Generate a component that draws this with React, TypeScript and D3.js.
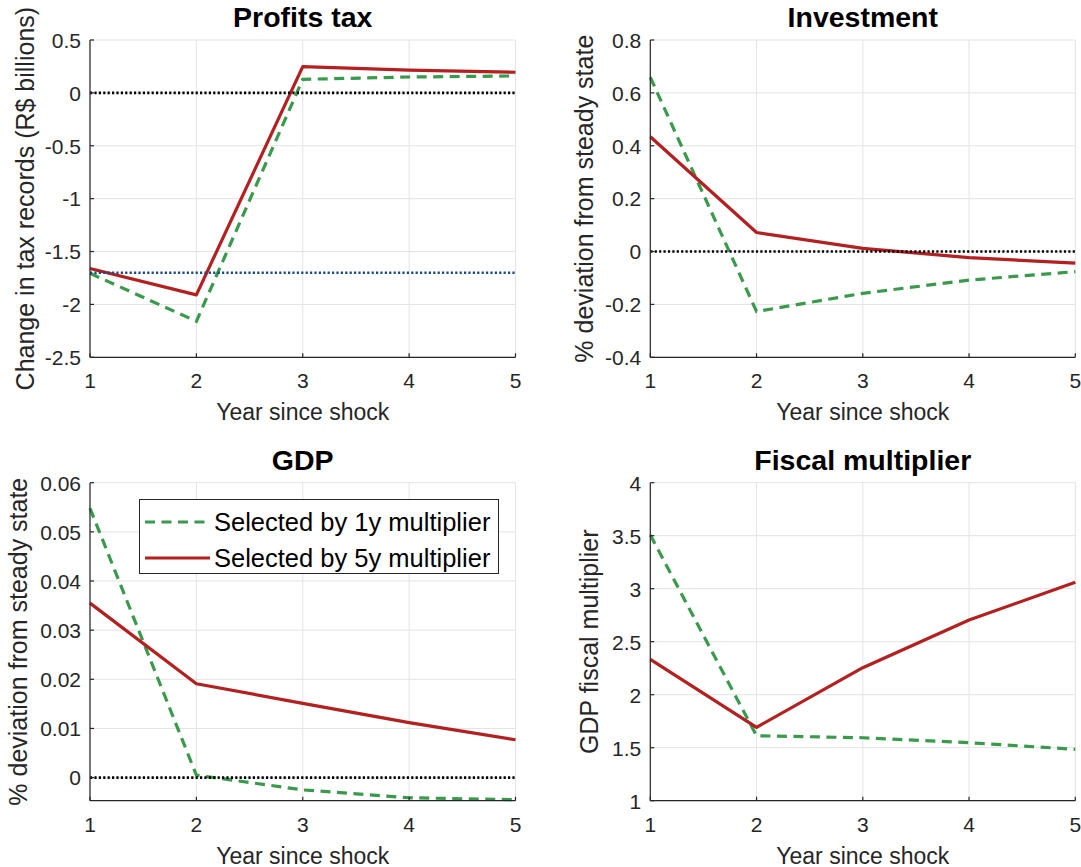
import React from "react";
import * as d3 from "d3";

const YEARS = [1, 2, 3, 4, 5];
const X_TICKS = [1, 2, 3, 4, 5];

// Profits tax
const TAX_1Y = [-1.706, -2.16, 0.128, 0.15, 0.16];
const TAX_5Y = [-1.66, -1.91, 0.248, 0.216, 0.195];
const TAX_REF = -1.7;
const TAX_TICKS = [0.5, 0, -0.5, -1, -1.5, -2, -2.5];
const TAX_TICK_LABELS = ["0.5", "0", "-0.5", "-1", "-1.5", "-2", "-2.5"];

// Investment
const INV_1Y = [0.659, -0.227, -0.158, -0.108, -0.076];
const INV_5Y = [0.434, 0.072, 0.012, -0.023, -0.044];
const INV_TICKS = [0.8, 0.6, 0.4, 0.2, 0, -0.2, -0.4];
const INV_TICK_LABELS = ["0.8", "0.6", "0.4", "0.2", "0", "-0.2", "-0.4"];

// GDP
const GDP_1Y = [0.0548, 0.0005, -0.0025, -0.0041, -0.0045];
const GDP_5Y = [0.0355, 0.0191, 0.0151, 0.0112, 0.0077];
const GDP_TICKS = [0.06, 0.05, 0.04, 0.03, 0.02, 0.01, 0];
const GDP_TICK_LABELS = ["0.06", "0.05", "0.04", "0.03", "0.02", "0.01", "0"];

// Fiscal multiplier
const MULT_1Y = [3.507, 1.613, 1.594, 1.547, 1.485];
const MULT_5Y = [2.334, 1.692, 2.255, 2.705, 3.06];
const MULT_TICKS = [4, 3.5, 3, 2.5, 2, 1.5, 1];
const MULT_TICK_LABELS = ["4", "3.5", "3", "2.5", "2", "1.5", "1"];

const SERIES_NAMES = ["Selected by 1y multiplier", "Selected by 5y multiplier"];

const GREEN = "#3a9a4c";
const RED = "#b3201f";
const BLUE = "#1b4a86";
const FONT = "'Liberation Sans', Arial, Helvetica, sans-serif";

type Panel = {
  title: string;
  ylabel: string;
  s1: number[];
  s5: number[];
  domain: [number, number];
  ticks: number[];
  tickLabels: string[];
  refs: { v: number; color: string }[];
  left: number;
  right: number;
  top: number;
  bottom: number;
  ylabOff: number;
  legend?: boolean;
};

const PANELS: Panel[] = [
  {
    title: "Profits tax",
    ylabel: "Change in tax records (R$ billions)",
    s1: TAX_1Y,
    s5: TAX_5Y,
    domain: [-2.5, 0.5],
    ticks: TAX_TICKS,
    tickLabels: TAX_TICK_LABELS,
    refs: [
      { v: 0, color: "#000" },
      { v: TAX_REF, color: BLUE },
    ],
    left: 90,
    right: 515.5,
    top: 40,
    bottom: 357.3,
    ylabOff: 56,
  },
  {
    title: "Investment",
    ylabel: "% deviation from steady state",
    s1: INV_1Y,
    s5: INV_5Y,
    domain: [-0.4, 0.8],
    ticks: INV_TICKS,
    tickLabels: INV_TICK_LABELS,
    refs: [{ v: 0, color: "#000" }],
    left: 650.3,
    right: 1075.3,
    top: 40,
    bottom: 357.3,
    ylabOff: 57,
  },
  {
    title: "GDP",
    ylabel: "% deviation from steady state",
    s1: GDP_1Y,
    s5: GDP_5Y,
    domain: [-0.0047, 0.06],
    ticks: GDP_TICKS,
    tickLabels: GDP_TICK_LABELS,
    refs: [{ v: 0, color: "#000" }],
    left: 90,
    right: 515.5,
    top: 482.7,
    bottom: 800.7,
    ylabOff: 63,
    legend: true,
  },
  {
    title: "Fiscal multiplier",
    ylabel: "GDP fiscal multiplier",
    s1: MULT_1Y,
    s5: MULT_5Y,
    domain: [1, 4],
    ticks: MULT_TICKS,
    tickLabels: MULT_TICK_LABELS,
    refs: [],
    left: 650.3,
    right: 1075.3,
    top: 482.7,
    bottom: 800.7,
    ylabOff: 52,
  },
];

function PanelView({ p }: { p: Panel }) {
  const x = d3.scaleLinear().domain([1, 5]).range([p.left, p.right]);
  const y = d3.scaleLinear().domain(p.domain).range([p.bottom, p.top]);
  const line = d3
    .line<number>()
    .x((_, i) => x(YEARS[i]))
    .y((d) => y(d));
  const cx = (p.left + p.right) / 2;
  const cy = (p.top + p.bottom) / 2;
  const axisColor = "#262626";
  return (
    <g>
      {X_TICKS.map((t) => (
        <line key={"gx" + t} x1={x(t)} x2={x(t)} y1={p.top} y2={p.bottom} stroke="#e3e3e3" strokeWidth={1} />
      ))}
      {p.ticks.map((t) => (
        <line key={"gy" + t} x1={p.left} x2={p.right} y1={y(t)} y2={y(t)} stroke="#e3e3e3" strokeWidth={1} />
      ))}
      <path d={line(p.s1) || ""} fill="none" stroke={GREEN} strokeWidth={3.2} strokeDasharray="10 6.5" />
      <path d={line(p.s5) || ""} fill="none" stroke={RED} strokeWidth={3.2} strokeLinejoin="round" />
      {p.refs.map((r, i) => (
        <line
          key={"r" + i}
          x1={p.left}
          x2={p.right}
          y1={y(r.v)}
          y2={y(r.v)}
          stroke={r.color}
          strokeWidth={2.6}
          strokeDasharray="2.2 2.2"
        />
      ))}
      <line x1={p.left} x2={p.left} y1={p.top} y2={p.bottom} stroke={axisColor} strokeWidth={1.2} />
      <line x1={p.left} x2={p.right} y1={p.bottom} y2={p.bottom} stroke={axisColor} strokeWidth={1.2} />
      {p.ticks.map((t) => (
        <line key={"ty" + t} x1={p.left} x2={p.left + 4} y1={y(t)} y2={y(t)} stroke={axisColor} strokeWidth={1.2} />
      ))}
      {X_TICKS.map((t) => (
        <line key={"tx" + t} x1={x(t)} x2={x(t)} y1={p.bottom} y2={p.bottom - 4} stroke={axisColor} strokeWidth={1.2} />
      ))}
      {p.ticks.map((t, i) => (
        <text
          key={"ly" + t}
          x={p.left - 9}
          y={y(t) + 7.8}
          textAnchor="end"
          fontSize={21}
          fill="#262626"
          fontFamily={FONT}
        >
          {p.tickLabels[i]}
        </text>
      ))}
      {X_TICKS.map((t) => (
        <text
          key={"lx" + t}
          x={x(t)}
          y={p.bottom + 31}
          textAnchor="middle"
          fontSize={21}
          fill="#262626"
          fontFamily={FONT}
        >
          {t}
        </text>
      ))}
      <text x={cx} y={p.bottom + 63} textAnchor="middle" fontSize={23} fill="#262626" fontFamily={FONT}>
        Year since shock
      </text>
      <text
        x={p.left - p.ylabOff}
        y={cy}
        textAnchor="middle"
        fontSize={25}
        fill="#262626"
        fontFamily={FONT}
        transform={`rotate(-90, ${p.left - p.ylabOff}, ${cy})`}
      >
        {p.ylabel}
      </text>
      <text x={cx} y={p.top - 13} textAnchor="middle" fontSize={28.5} fontWeight="bold" fill="#000" fontFamily={FONT}>
        {p.title}
      </text>
      {p.legend && (
        <g>
          <rect x={139.5} y={499.5} width={359} height={74} fill="#fff" stroke="#262626" strokeWidth={1} />
          <line x1={145} x2={210} y1={522} y2={522} stroke={GREEN} strokeWidth={3.2} strokeDasharray="10 6.5" />
          <line x1={145} x2={210} y1={558} y2={558} stroke={RED} strokeWidth={3.2} />
          <text x={214} y={531} fontSize={25.5} fill="#000" fontFamily={FONT}>
            {SERIES_NAMES[0]}
          </text>
          <text x={214} y={567} fontSize={25.5} fill="#000" fontFamily={FONT}>
            {SERIES_NAMES[1]}
          </text>
        </g>
      )}
    </g>
  );
}

export default function App() {
  return (
    <svg
      width={1081}
      height={867}
      style={{ position: "absolute", left: 0, top: 0, background: "#fff" }}
    >
      <rect x={0} y={0} width={1081} height={867} fill="#fff" />
      {PANELS.map((p) => (
        <PanelView key={p.title} p={p} />
      ))}
    </svg>
  );
}
